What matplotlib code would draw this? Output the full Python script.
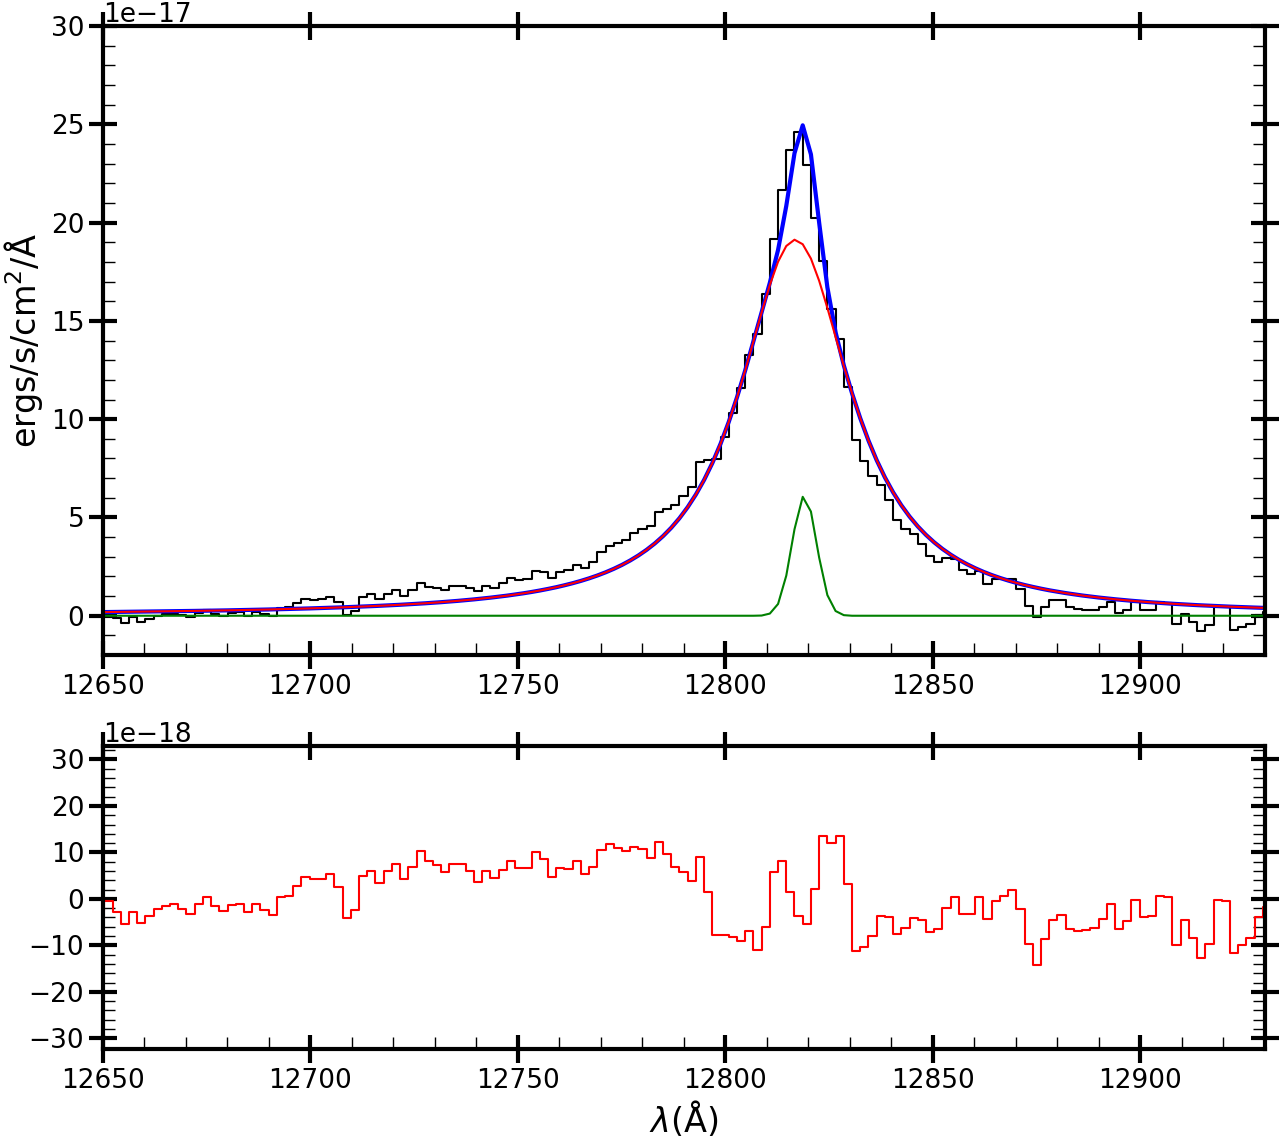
import numpy as np
import matplotlib
matplotlib.use("Agg")
import matplotlib.pyplot as plt
from matplotlib.ticker import MultipleLocator

# pixel grid of the spectrum (Angstrom)
wave0 = 12650.32
dwave = 1.98
npix = 143

# observed flux, 1e-17 ergs/s/cm2/A
flux = [-0.054, 0.141, -0.095, -0.350, -0.085, -0.300, -0.144, 0.011, 0.067, 0.113,
        0.029, -0.074, 0.132, 0.309, 0.107, 0.004, 0.142, 0.191, 0.010, 0.189,
        0.088, -0.012, 0.389, 0.420, 0.641, 0.853, 0.816, 0.829, 0.943, 0.693,
        0.034, 0.220, 0.968, 1.106, 0.865, 1.126, 1.298, 1.011, 1.296, 1.652,
        1.480, 1.410, 1.292, 1.496, 1.533, 1.432, 1.244, 1.510, 1.429, 1.642,
        1.900, 1.801, 1.879, 2.283, 2.214, 1.931, 2.219, 2.305, 2.592, 2.432,
        2.741, 3.266, 3.565, 3.685, 3.831, 4.190, 4.422, 4.548, 5.280, 5.445,
        5.657, 6.093, 6.559, 7.821, 7.916, 7.977, 9.091, 10.29, 11.58, 13.27,
        14.33, 16.35, 19.18, 21.67, 23.68, 24.59, 22.93, 20.22, 18.07, 15.62,
        14.10, 11.63, 8.92, 7.890, 7.124, 6.676, 5.900, 4.875, 4.427, 4.138,
        3.669, 3.014, 2.751, 2.918, 2.889, 2.305, 2.101, 2.283, 1.630, 1.889,
        1.862, 1.872, 1.349, 0.497, -0.043, 0.425, 0.776, 0.812, 0.449, 0.336,
        0.307, 0.307, 0.441, 0.719, 0.159, 0.282, 0.712, 0.295, 0.305, 0.706,
        0.660, -0.405, 0.101, -0.306, -0.756, -0.461, 0.465, 0.423, -0.724, -0.569,
        -0.429, 0.021, 0.208]

# broad component of the fit
broad = [0.186, 0.191, 0.195, 0.200, 0.205, 0.210, 0.216, 0.221, 0.227, 0.233,
         0.239, 0.246, 0.252, 0.259, 0.267, 0.274, 0.282, 0.291, 0.300, 0.309,
         0.318, 0.328, 0.339, 0.350, 0.361, 0.373, 0.386, 0.399, 0.413, 0.428,
         0.444, 0.460, 0.478, 0.496, 0.515, 0.536, 0.558, 0.581, 0.606, 0.632,
         0.660, 0.690, 0.722, 0.756, 0.793, 0.832, 0.874, 0.920, 0.969, 1.022,
         1.080, 1.141, 1.209, 1.283, 1.364, 1.451, 1.549, 1.655, 1.772, 1.902,
         2.046, 2.206, 2.385, 2.585, 2.811, 3.065, 3.352, 3.678, 4.050, 4.475,
         4.962, 5.523, 6.169, 6.911, 7.766, 8.747, 9.861, 11.11, 12.48, 13.95,
         15.43, 16.83, 18.01, 18.81, 19.13, 18.90, 18.17, 17.04, 15.66, 14.18,
         12.71, 11.32, 10.05, 8.915, 7.914, 7.041, 6.280, 5.620, 5.047, 4.548,
         4.114, 3.734, 3.401, 3.108, 2.849, 2.620, 2.416, 2.233, 2.070, 1.924,
         1.792, 1.672, 1.564, 1.467, 1.377, 1.295, 1.221, 1.152, 1.089, 1.031,
         0.977, 0.927, 0.881, 0.839, 0.799, 0.762, 0.727, 0.695, 0.665, 0.636,
         0.610, 0.585, 0.561, 0.539, 0.519, 0.499, 0.480, 0.463, 0.446, 0.431,
         0.416, 0.401, 0.388]

# narrow component, nonzero only from pixel 80 to 90
narrow_first = 80
narrow_vals = [0.01, 0.11, 0.60, 2.04, 4.40, 6.05, 5.30, 2.96, 1.05, 0.24, 0.03]

# residuals, 1e-18
resid = [-2.4, -0.5, -2.9, -5.5, -2.9, -5.1, -3.6, -2.1, -1.6, -1.2,
         -2.1, -3.2, -1.2, 0.5, -1.6, -2.7, -1.4, -1.0, -2.9, -1.2,
         -2.3, -3.4, 0.5, 0.7, 2.8, 4.8, 4.3, 4.3, 5.3, 2.65,
         -4.1, -2.4, 4.9, 6.1, 3.5, 5.9, 7.4, 4.3, 6.9, 10.2,
         8.2, 7.2, 5.7, 7.4, 7.4, 6.0, 3.7, 5.9, 4.6, 6.2,
         8.2, 6.6, 6.7, 10.0, 8.5, 4.8, 6.7, 6.5, 8.2, 5.3,
         6.95, 10.6, 11.8, 11.0, 10.2, 11.25, 10.7, 8.7, 12.3, 9.7,
         6.95, 5.7, 3.9, 9.1, 1.5, -7.7, -7.7, -8.2, -9.0, -6.8,
         -11.1, -5.95, 5.7, 8.2, 1.5, -3.6, -5.4, 2.2, 13.6, 12.0,
         13.6, 3.1, -11.3, -10.25, -7.9, -3.65, -3.8, -7.45, -6.2, -4.1,
         -4.45, -7.2, -6.5, -1.9, 0.4, -3.15, -3.15, 0.5, -4.4, -0.35,
         0.7, 2.0, -2.15, -9.7, -14.2, -8.7, -4.45, -3.4, -6.4, -6.95,
         -6.7, -6.2, -4.4, -1.2, -6.4, -4.8, -0.15, -4.0, -3.6, 0.7,
         0.5, -9.9, -4.6, -8.45, -12.75, -9.6, -0.15, -0.4, -11.7, -10.0,
         -8.45, -3.8, -1.8]

wave = wave0 + dwave * np.arange(npix)
flux = np.array(flux) * 1e-17
broad = np.array(broad) * 1e-17
narrow = np.zeros(npix)
narrow[narrow_first:narrow_first + len(narrow_vals)] = narrow_vals
narrow = narrow * 1e-17
total = broad + narrow
resid = np.array(resid) * 1e-18

fig = plt.figure(figsize=(12.79, 11.42), dpi=100)
ax1 = fig.add_axes([0.0805, 0.4264, 0.9085, 0.5508])
ax2 = fig.add_axes([0.0805, 0.0814, 0.9085, 0.2654])

ax1.step(wave, flux, color='k', lw=1.5)
ax1.plot(wave, total, color='b', lw=3)
ax1.plot(wave, broad, color='r', lw=1.5)
ax1.plot(wave, narrow, color='g', lw=1.5)
ax1.set_xlim(12650, 12930)
ax1.set_ylim(-2e-17, 30e-17)
ax1.yaxis.set_major_locator(MultipleLocator(5e-17))
ax1.yaxis.set_minor_locator(MultipleLocator(1e-17))
ax1.ticklabel_format(axis='y', style='sci', scilimits=(-17, -17))
ax1.set_ylabel(r'ergs/s/cm$^2$/Å', fontsize=24)

ax2.step(wave, resid, color='r', lw=1.5)
ax2.set_xlim(12650, 12930)
ax2.set_ylim(-32.3e-18, 32.9e-18)
ax2.yaxis.set_major_locator(MultipleLocator(10e-18))
ax2.yaxis.set_minor_locator(MultipleLocator(2e-18))
ax2.ticklabel_format(axis='y', style='sci', scilimits=(-18, -18))
ax2.set_xlabel(r'$\lambda$(Å)', fontsize=24)

for ax in (ax1, ax2):
    ax.xaxis.set_major_locator(MultipleLocator(50))
    ax.xaxis.set_minor_locator(MultipleLocator(10))
    ax.ticklabel_format(axis='x', useOffset=False)
    ax.tick_params(which='major', direction='inout', length=20, width=3,
                   top=True, right=True, labelsize=19)
    ax.tick_params(which='minor', direction='in', length=8.5, width=1,
                   top=False, right=True)
    ax.yaxis.get_offset_text().set_fontsize(19)
    for s in ax.spines.values():
        s.set_linewidth(3)

fig.savefig('out.png', dpi=100)
